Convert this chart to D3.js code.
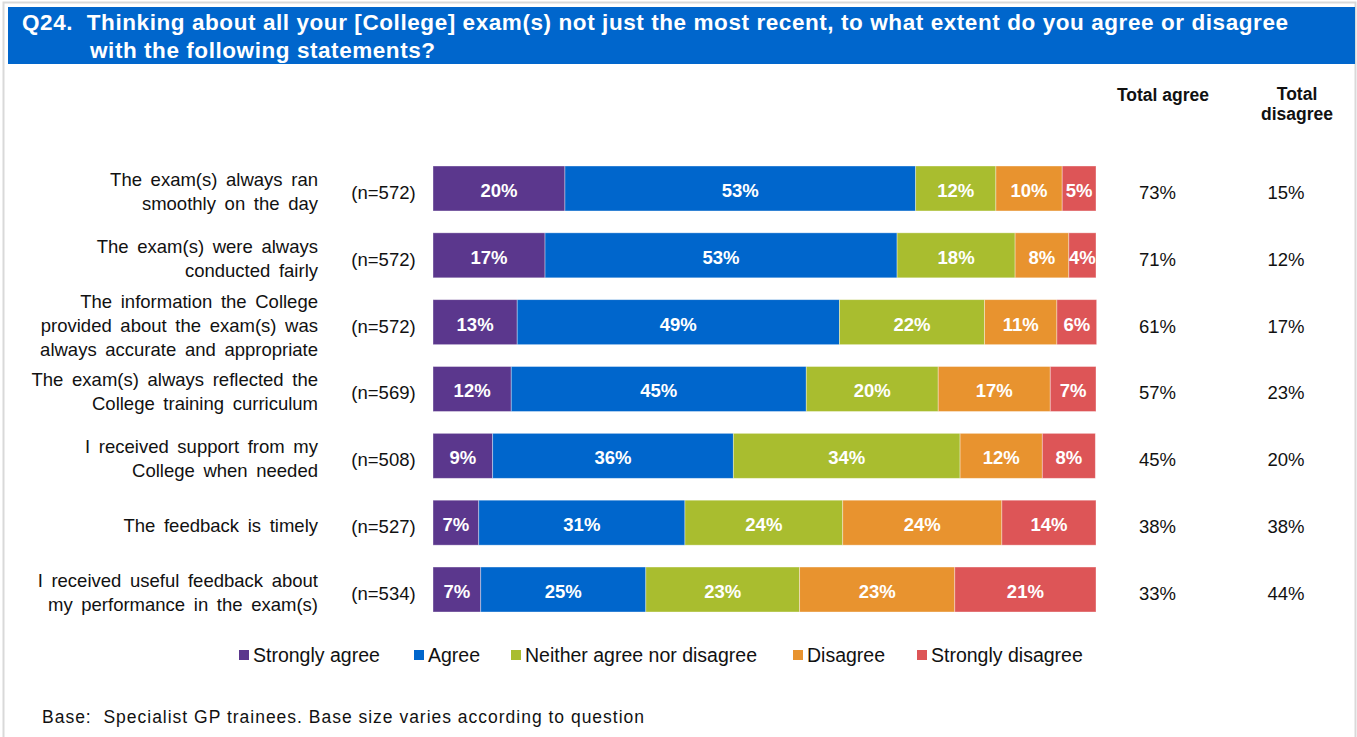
<!DOCTYPE html>
<html><head><meta charset="utf-8">
<script src="https://cdn.jsdelivr.net/npm/d3@7"></script>
<style>html,body{margin:0;padding:0;background:#fff;}svg{display:block;font-family:"Liberation Sans",Arial,sans-serif;}</style>
</head><body>
<svg id="c" width="1357" height="737"></svg>
<script>
const statements = [
  ["The exam(s) always ran", "smoothly on the day"],
  ["The exam(s) were always", "conducted fairly"],
  ["The information the College", "provided about the exam(s) was", "always accurate and appropriate"],
  ["The exam(s) always reflected the", "College training curriculum"],
  ["I received support from my", "College when needed"],
  ["The feedback is timely"],
  ["I received useful feedback about", "my performance in the exam(s)"]
];
const baseSizes = ["(n=572)", "(n=572)", "(n=572)", "(n=569)", "(n=508)", "(n=527)", "(n=534)"];
const seriesNames = ["Strongly agree", "Agree", "Neither agree nor disagree", "Disagree", "Strongly disagree"];
const seriesColors = ["#5b378d", "#0066cc", "#a9bd2f", "#e8932f", "#dd5557"];
const stronglyAgree = [19.9, 16.9, 12.7, 11.8, 9.0, 6.9, 7.2];
const agree = [52.9, 53.1, 48.6, 44.5, 36.3, 31.1, 24.9];
const neither = [12.1, 17.8, 21.9, 19.9, 34.2, 23.8, 23.2];
const disagree = [10.0, 8.1, 10.9, 16.9, 12.4, 24.0, 23.4];
const stronglyDisagree = [5.1, 4.1, 6.0, 6.9, 8.0, 14.2, 21.3];
const segLabels = [
  ["20%", "53%", "12%", "10%", "5%"],
  ["17%", "53%", "18%", "8%", "4%"],
  ["13%", "49%", "22%", "11%", "6%"],
  ["12%", "45%", "20%", "17%", "7%"],
  ["9%", "36%", "34%", "12%", "8%"],
  ["7%", "31%", "24%", "24%", "14%"],
  ["7%", "25%", "23%", "23%", "21%"]
];
const totalAgree = ["73%", "71%", "61%", "57%", "45%", "38%", "33%"];
const totalDisagree = ["15%", "12%", "17%", "23%", "20%", "38%", "44%"];

const svg = d3.select("#c");
// slide border
svg.append("rect").attr("x", 3.5).attr("y", 2.5).attr("width", 1352).attr("height", 740)
  .attr("fill", "none").attr("stroke", "#d9d9d9").attr("stroke-width", 2);
// header
svg.append("rect").attr("x", 8).attr("y", 7).attr("width", 1347).attr("height", 57).attr("fill", "#0066cc");
const ht = svg.append("text").attr("fill", "#fff").attr("font-weight", "bold").attr("font-size", 22.5);
ht.append("tspan").attr("x", 22).attr("y", 29.5).attr("xml:space", "preserve")
  .attr("textLength", 1266).attr("lengthAdjust", "spacing")
  .text("Q24.  Thinking about all your [College] exam(s) not just the most recent, to what extent do you agree or disagree");
svg.append("text").attr("fill", "#fff").attr("font-weight", "bold").attr("font-size", 22.5)
  .attr("x", 90).attr("y", 58).attr("textLength", 345).attr("lengthAdjust", "spacing")
  .text("with the following statements?");

const seriesData = [stronglyAgree, agree, neither, disagree, stronglyDisagree];
const rows = statements.map((s, i) => {
  const o = { idx: i };
  seriesNames.forEach((n, k) => o[n] = seriesData[k][i]);
  return o;
});
const stack = d3.stack().keys(seriesNames)(rows);

const x = d3.scaleLinear().domain([0, 100]).range([433, 1096]);
const y = d3.scaleBand().domain(d3.range(rows.length)).range([166, 612]).paddingInner(0.327).paddingOuter(0);

const g = svg.append("g");
stack.forEach((layer, k) => {
  const lg = g.append("g");
  lg.selectAll("rect").data(layer).join("rect")
    .attr("x", d => x(d[0])).attr("y", (d, i) => y(i))
    .attr("width", d => x(d[1]) - x(d[0])).attr("height", y.bandwidth())
    .attr("fill", seriesColors[k]).attr("stroke", "rgba(255,255,255,0.45)").attr("stroke-width", 0.8);
  lg.selectAll("text").data(layer).join("text")
    .attr("x", d => (x(d[0]) + x(d[1])) / 2).attr("y", (d, i) => y(i) + y.bandwidth() / 2 + 2)
    .attr("dy", "0.35em").attr("text-anchor", "middle").attr("fill", "#fff")
    .attr("font-weight", "bold").attr("font-size", 18.5)
    .text((d, i) => segLabels[i][k]);
});

// statement labels
statements.forEach((lines, i) => {
  const cy = y(i) + y.bandwidth() / 2 + 4;
  const lh = 24;
  const t = svg.append("text").attr("text-anchor", "end").attr("font-size", 18.5).attr("fill", "#111")
    .attr("word-spacing", 3.5);
  lines.forEach((l, j) => {
    t.append("tspan").attr("x", 318).attr("y", cy + (j - (lines.length - 1) / 2) * lh - 1).attr("dy", "0.35em").text(l);
  });
  svg.append("text").attr("x", 383.5).attr("y", cy).attr("dy", "0.35em").attr("text-anchor", "middle")
    .attr("font-size", 18.5).attr("fill", "#111").text(baseSizes[i]);
  svg.append("text").attr("x", 1157.5).attr("y", cy).attr("dy", "0.35em").attr("text-anchor", "middle")
    .attr("font-size", 18.5).attr("fill", "#111").text(totalAgree[i]);
  svg.append("text").attr("x", 1286).attr("y", cy).attr("dy", "0.35em").attr("text-anchor", "middle")
    .attr("font-size", 18.5).attr("fill", "#111").text(totalDisagree[i]);
});

// column headers
svg.append("text").attr("x", 1163).attr("y", 95).attr("dy", "0.35em").attr("text-anchor", "middle")
  .attr("font-weight", "bold").attr("font-size", 17.5).attr("fill", "#111").text("Total agree");
const td = svg.append("text").attr("text-anchor", "middle").attr("font-weight", "bold").attr("font-size", 17.5).attr("fill", "#111");
td.append("tspan").attr("x", 1297).attr("y", 94).attr("dy", "0.35em").text("Total");
td.append("tspan").attr("x", 1297).attr("y", 114).attr("dy", "0.35em").text("disagree");

// legend
const legendX = [239, 414, 511, 793, 917];
seriesNames.forEach((n, k) => {
  svg.append("rect").attr("x", legendX[k]).attr("y", 650).attr("width", 10).attr("height", 10).attr("fill", seriesColors[k]);
  svg.append("text").attr("x", legendX[k] + 14).attr("y", 655).attr("dy", "0.35em")
    .attr("font-size", 19.5).attr("fill", "#111").text(n);
});

// footer
svg.append("text").attr("x", 42).attr("y", 717).attr("dy", "0.35em").attr("font-size", 17.5).attr("fill", "#111")
  .attr("xml:space", "preserve").attr("textLength", 602).attr("lengthAdjust", "spacing")
  .text("Base:  Specialist GP trainees. Base size varies according to question");
</script>
</body></html>
